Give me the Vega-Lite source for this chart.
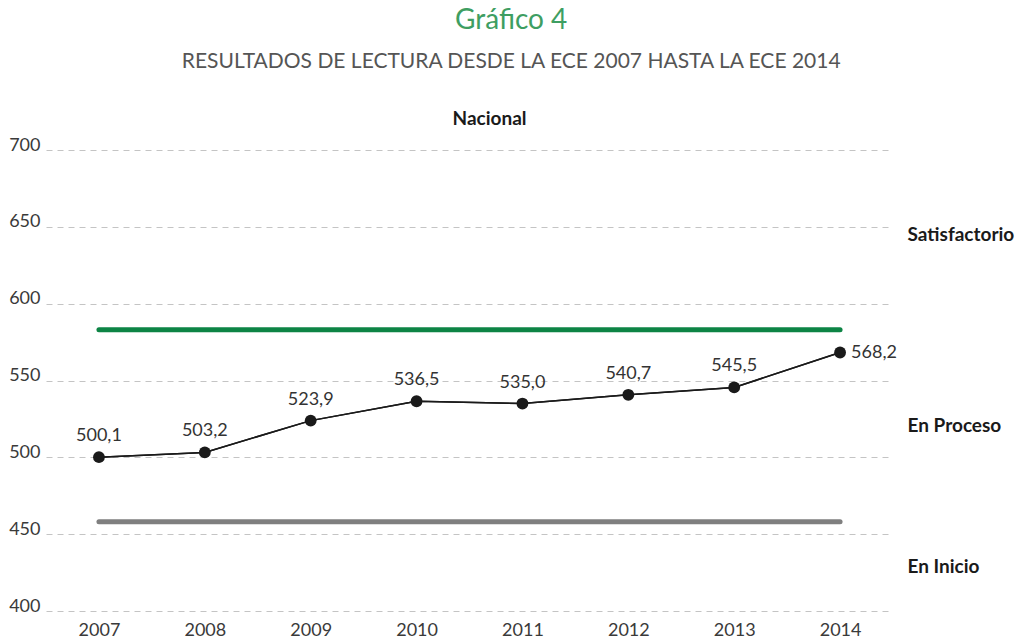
{
  "$schema": "https://vega.github.io/schema/vega-lite/v6.json",
  "width": 847,
  "height": 461,
  "padding": {"left": 8, "top": 7, "right": 5, "bottom": 5},
  "background": "white",
  "title": {
    "text": "Gráfico 4",
    "subtitle": "RESULTADOS DE LECTURA DESDE LA ECE 2007 HASTA LA ECE 2014",
    "anchor": "middle",
    "frame": "bounds",
    "font": "Lato",
    "fontSize": 28,
    "fontWeight": "normal",
    "color": "#3e9e62",
    "subtitleFont": "Lato",
    "subtitleFontSize": 21,
    "subtitleColor": "#555555",
    "subtitlePadding": 16,
    "offset": 37
  },
  "config": {
    "view": {"stroke": null},
    "font": "Lato",
    "locale": {"number": {"decimal": ",", "thousands": ".", "grouping": [3], "currency": ["", ""]}}
  },
  "datasets": {
    "scores": [
      {"year": "2007", "score": 500.1},
      {"year": "2008", "score": 503.2},
      {"year": "2009", "score": 523.9},
      {"year": "2010", "score": 536.5},
      {"year": "2011", "score": 535.0},
      {"year": "2012", "score": 540.7},
      {"year": "2013", "score": 545.5},
      {"year": "2014", "score": 568.2}
    ],
    "levels": [
      {"nivel": "Satisfactorio", "valor": 583, "desde": "2007", "hasta": "2014"},
      {"nivel": "En Inicio", "valor": 458, "desde": "2007", "hasta": "2014"}
    ]
  },
  "resolve": {"axis": {"x": "independent", "y": "independent"}},
  "layer": [
    {
      "data": {"name": "scores"},
      "mark": {"type": "line", "color": "#1a1a1a", "strokeWidth": 1.5},
      "encoding": {
        "x": {
          "field": "year", "type": "ordinal",
          "scale": {"type": "point", "domain": ["2007","2008","2009","2010","2011","2012","2013","2014"], "padding": 0.5},
          "axis": {"orient": "bottom", "title": null, "labelAngle": 0, "labelFontSize": 18, "labelColor": "#3a3a3a", "ticks": false, "domain": false, "grid": false, "labelPadding": 10}
        },
        "y": {
          "field": "score", "type": "quantitative",
          "scale": {"domain": [400, 700], "nice": false, "zero": false},
          "axis": {"orient": "left", "title": null, "values": [400, 450, 500, 550, 600, 650, 700], "grid": true, "gridDash": [6, 5], "gridColor": "#c4c4c4", "gridWidth": 1, "ticks": false, "domain": false, "labelFontSize": 18, "labelColor": "#3a3a3a", "labelBaseline": "alphabetic", "labelPadding": 6}
        }
      }
    },
    {
      "data": {"name": "levels"},
      "mark": {"type": "rule", "strokeWidth": 5, "strokeCap": "round"},
      "encoding": {
        "x": {
          "field": "desde", "type": "ordinal",
          "axis": {"orient": "top", "title": "Nacional", "labels": false, "ticks": false, "domain": false, "grid": false, "titleFontWeight": "bold", "titleFontSize": 19, "titleColor": "#1a1a1a", "titlePadding": 22, "titleX": 443}
        },
        "x2": {"field": "hasta"},
        "y": {
          "field": "valor", "type": "quantitative",
          "axis": {"orient": "right", "title": null, "values": [645, 521, 429], "labelExpr": "datum.value == 645 ? 'Satisfactorio' : datum.value == 521 ? 'En Proceso' : 'En Inicio'", "ticks": false, "domain": false, "grid": false, "labelFontWeight": "bold", "labelFontSize": 19, "labelColor": "#1a1a1a", "labelPadding": 14, "labelAlign": "left", "labelBaseline": "middle"}
        },
        "color": {"field": "nivel", "type": "nominal", "scale": {"domain": ["Satisfactorio", "En Inicio"], "range": ["#0d8445", "#7f7f7f"]}, "legend": null}
      }
    },
    {
      "data": {"name": "scores"},
      "mark": {"type": "line", "color": "#1a1a1a", "strokeWidth": 1.5},
      "encoding": {
        "x": {"field": "year", "type": "ordinal", "axis": null},
        "y": {"field": "score", "type": "quantitative", "axis": null}
      }
    },
    {
      "data": {"name": "scores"},
      "mark": {"type": "circle", "size": 140, "color": "#1a1a1a", "opacity": 1},
      "encoding": {
        "x": {"field": "year", "type": "ordinal", "axis": null},
        "y": {"field": "score", "type": "quantitative", "axis": null}
      }
    },
    {
      "data": {"name": "scores"},
      "transform": [{"filter": "datum.year != '2014'"}],
      "mark": {"type": "text", "dy": -21, "fontSize": 18, "color": "#333333", "baseline": "middle"},
      "encoding": {
        "x": {"field": "year", "type": "ordinal", "axis": null},
        "y": {"field": "score", "type": "quantitative", "axis": null},
        "text": {"field": "score", "type": "quantitative", "format": ".1f"}
      }
    },
    {
      "data": {"name": "scores"},
      "transform": [{"filter": "datum.year == '2014'"}],
      "mark": {"type": "text", "dx": 11, "align": "left", "fontSize": 18, "color": "#333333", "baseline": "middle"},
      "encoding": {
        "x": {"field": "year", "type": "ordinal", "axis": null},
        "y": {"field": "score", "type": "quantitative", "axis": null},
        "text": {"field": "score", "type": "quantitative", "format": ".1f"}
      }
    }
  ]
}
